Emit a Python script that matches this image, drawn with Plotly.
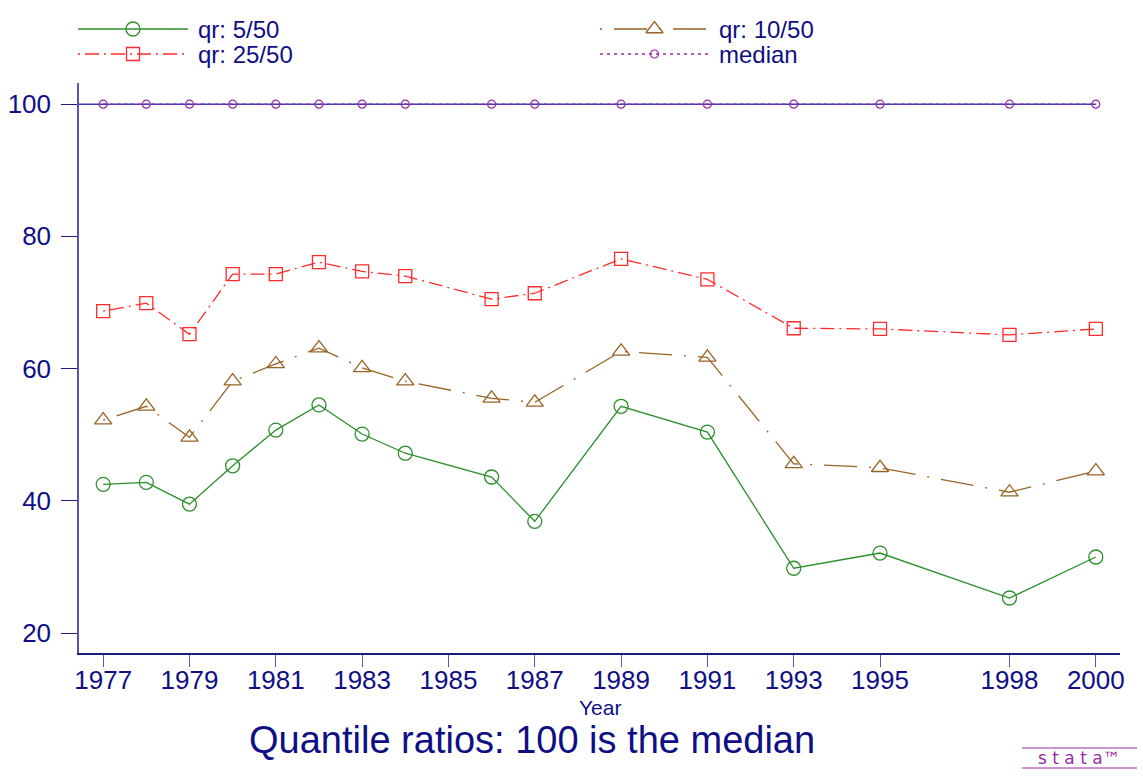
import plotly.graph_objects as go

# ---- data -------------------------------------------------------------
years = [1977, 1978, 1979, 1980, 1981, 1982, 1983, 1984, 1986, 1987,
         1989, 1991, 1993, 1995, 1998, 2000]
qr_5_50 = [42.5, 42.8, 39.5, 45.3, 50.7, 54.5, 50.1, 47.2, 43.6, 36.9,
           54.3, 50.4, 29.8, 32.1, 25.3, 31.5]
qr_10_50 = [52.2, 54.3, 49.6, 58.1, 60.7, 63.1, 60.1, 58.1, 55.5, 54.9,
            62.6, 61.7, 45.6, 45.0, 41.3, 44.5]
qr_25_50 = [68.7, 69.9, 65.2, 74.3, 74.3, 76.1, 74.7, 74.0, 70.5, 71.4,
            76.6, 73.5, 66.1, 66.0, 65.1, 66.0]
median = [100] * len(years)

x_ticks = [1977, 1979, 1981, 1983, 1985, 1987, 1989, 1991, 1993, 1995, 1998, 2000]
y_ticks = [20, 40, 60, 80, 100]
series_names = ["qr: 5/50", "qr: 10/50", "qr: 25/50", "median"]
title_text = "Quantile ratios: 100 is the median"
x_title = "Year"

# ---- styling ----------------------------------------------------------
W, H = 1143, 782
NAVY = "#0f0f85"
XLINE = "#1a1a80"
YLINE = "#5656b4"
REFBLUE = "#3a3ab8"
GREEN = "#2a8f2a"
BROWN = "#9a6326"
RED = "#ff2a2a"
PURPLE = "#9b2aa6"
FONT = "Liberation Sans, Arial, sans-serif"

styles = {
    "qr: 5/50": dict(line=dict(color=GREEN, width=1.3, dash="solid"),
                     marker=dict(symbol="circle-open", size=14, color=GREEN,
                                 line=dict(width=1.3, color=GREEN))),
    "qr: 10/50": dict(line=dict(color=BROWN, width=1.3, dash="2px,12px,33px,12px"),
                      marker=dict(symbol="triangle-up-open", size=15, color=BROWN,
                                  line=dict(width=1.3, color=BROWN))),
    "qr: 25/50": dict(line=dict(color=RED, width=1.3, dash="2px,5px,14px,5px"),
                      marker=dict(symbol="square-open", size=13, color=RED,
                                  line=dict(width=1.3, color=RED))),
    "median": dict(line=dict(color=PURPLE, width=1.3, dash="3px,4px"),
                   marker=dict(symbol="circle-open", size=8, color=PURPLE,
                               line=dict(width=1.2, color=PURPLE))),
}


def px_x(p):
    return p / W


def px_y(p):
    return 1 - p / H


fig = go.Figure()

series = {"qr: 5/50": qr_5_50, "qr: 10/50": qr_10_50,
          "qr: 25/50": qr_25_50, "median": median}
for name in series_names:
    fig.add_trace(go.Scatter(x=years, y=series[name], name=name,
                             mode="lines+markers", showlegend=False,
                             xaxis="x", yaxis="y", **styles[name]))

# legend keys drawn on an overlay axis measured in pixels
legend_slots = {
    "qr: 5/50": (78, 188, 29),
    "qr: 10/50": (600, 709, 29),
    "qr: 25/50": (78, 188, 54),
    "median": (600, 709, 54),
}
for name in series_names:
    x0, x1, yy = legend_slots[name]
    st = styles[name]
    fig.add_trace(go.Scatter(x=[x0, x1], y=[yy, yy], mode="lines",
                             line=st["line"], showlegend=False,
                             hoverinfo="skip", xaxis="x2", yaxis="y2"))
    fig.add_trace(go.Scatter(x=[(x0 + x1) / 2], y=[yy], mode="markers",
                             marker=st["marker"], showlegend=False,
                             hoverinfo="skip", xaxis="x2", yaxis="y2"))
    fig.add_annotation(x=x1 + 8, y=yy, xref="x2", yref="y2", text=name,
                       showarrow=False, xanchor="left", yanchor="middle",
                       font=dict(size=24, color=NAVY, family=FONT))

x_range = [1976.44, 2000.56]
y_range = [16.98, 103.2]

# reference line at the median level
fig.add_shape(type="line", xref="x", yref="y", x0=x_range[0], x1=2000,
              y0=100, y1=100, line=dict(color=REFBLUE, width=1.5), layer="below")

fig.update_layout(
    width=W, height=H,
    margin=dict(l=0, r=0, t=0, b=0, autoexpand=False),
    paper_bgcolor="white", plot_bgcolor="rgba(0,0,0,0)",
    showlegend=False,
    font=dict(family=FONT, color=NAVY),
    xaxis=dict(domain=[px_x(79), px_x(1120)], range=x_range,
               tickmode="array", tickvals=x_ticks, ticktext=[str(v) for v in x_ticks],
               ticks="outside", ticklen=12, tickwidth=1.2, tickcolor=YLINE,
               showline=True, linecolor=XLINE, linewidth=1.5,
               showgrid=False, zeroline=False, ticklabelstandoff=-9,
               tickfont=dict(size=26, color=NAVY, family=FONT),
               anchor="y"),
    yaxis=dict(domain=[px_y(653), px_y(83)], range=y_range,
               tickmode="array", tickvals=y_ticks,
               ticks="outside", ticklen=16, tickwidth=1.2, tickcolor=XLINE,
               showline=True, linecolor=YLINE, linewidth=1.5,
               showgrid=False, zeroline=False, ticklabelstandoff=5,
               tickfont=dict(size=26, color=NAVY, family=FONT),
               anchor="x"),
    xaxis2=dict(domain=[0, 1], range=[0, W], visible=False, anchor="y2",
                fixedrange=True),
    yaxis2=dict(domain=[0, 1], range=[H, 0], visible=False, anchor="x2",
                fixedrange=True),
)

# axis title and chart title
fig.add_annotation(x=px_x(600), y=px_y(707), xref="paper", yref="paper",
                   text=x_title, showarrow=False, xanchor="center", yanchor="middle",
                   font=dict(size=21, color=NAVY, family=FONT))
fig.add_annotation(x=px_x(532), y=px_y(740), xref="paper", yref="paper",
                   text=title_text, showarrow=False, xanchor="center", yanchor="middle",
                   font=dict(size=38, color=NAVY, family=FONT))

# stata badge
for yy in (748, 768):
    fig.add_shape(type="line", xref="paper", yref="paper",
                  x0=px_x(1022), x1=px_x(1137), y0=px_y(yy), y1=px_y(yy),
                  line=dict(color=PURPLE, width=1.2))
fig.add_annotation(x=px_x(1079), y=px_y(758), xref="paper", yref="paper",
                   text="s t a t a™", showarrow=False, xanchor="center", yanchor="middle",
                   font=dict(size=17, color=PURPLE, family="DejaVu Sans, sans-serif"))

fig.write_html("out.html")
